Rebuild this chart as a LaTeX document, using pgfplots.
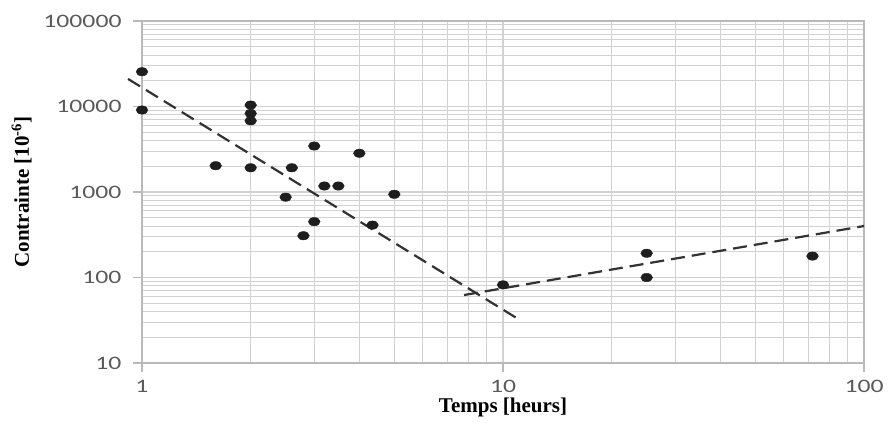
\documentclass[border=0pt]{standalone}
\usepackage{fontspec}
\setmainfont{Liberation Serif}
\newfontfamily\tickfont[FakeStretch=1.35]{Carlito}
\usepackage{pgfplots}
\pgfplotsset{compat=1.18}
\definecolor{gridgray}{RGB}{210,210,210}
\definecolor{axisgray}{RGB}{185,185,185}
\definecolor{labgray}{RGB}{90,90,90}
\definecolor{dotblack}{RGB}{30,30,30}
\definecolor{dashgray}{RGB}{50,50,50}

\begin{document}
\begin{tikzpicture}
\begin{axis}[
    xmode=log, ymode=log,
    scale only axis,
    width=722pt, height=342pt,
    xmin=1, xmax=100, ymin=10, ymax=100000,
    xtick={1,10,100}, xticklabels={1,10,100},
    ytick={10,100,1000,10000,100000},
    yticklabels={10,100,1000,10000,100000},
    minor xtick={2,3,4,5,6,7,8,9,20,30,40,50,60,70,80,90},
    minor ytick={20,30,40,50,60,70,80,90,200,300,400,500,600,700,800,900,
                 2000,3000,4000,5000,6000,7000,8000,9000,
                 20000,30000,40000,50000,60000,70000,80000,90000},
    grid=both,
    major grid style={gridgray, line width=1.2pt},
    minor grid style={gridgray, line width=1pt},
    axis line style={axisgray, line width=1.2pt},
    tick pos=left, tick align=outside,
    major tick length=9pt, minor tick length=0pt,
    tick style={axisgray, line width=1.2pt},
    ticklabel style={font=\tickfont\fontsize{19}{19}\selectfont, text=labgray},
    xticklabel style={yshift=-5pt},
    yticklabel style={xshift=-8pt},
    xlabel={Temps [heurs]},
    ylabel={Contrainte [10\textsuperscript{-6}]},
    label style={font=\bfseries\fontsize{21}{24}\selectfont},
    ylabel shift=5pt,
    xlabel shift=-2pt,
    clip=false,
]
\addplot[only marks, mark=*, mark size=4.2pt,
    mark options={xscale=1.4, fill=dotblack, draw=dotblack}] coordinates {
    (1,25500) (1,9100) (2,10400) (2,8300) (2,6800) (1.6,2030) (2,1920)
    (3,3450) (2.6,1920) (2.5,870) (3.2,1175) (3.5,1175) (4,2840) (5,940)
    (3,450) (2.8,308) (4.35,410) (10,82) (25,192) (25,100) (72,178)
};
\addplot[dashgray, line width=2.2pt, dash pattern=on 14pt off 7pt] coordinates {
    (0.915,21000) (10.94,33.3)
};
\addplot[dashgray, line width=2.2pt, dash pattern=on 14pt off 7pt] coordinates {
    (7.8,62.4) (100,400)
};
\coordinate (sw) at (rel axis cs:0,0);
\coordinate (ne) at (rel axis cs:1,1);
\end{axis}
\path ([shift={(-142pt,-63pt)}]sw) rectangle ([shift={(24pt,21pt)}]ne);
\end{tikzpicture}
\end{document}
